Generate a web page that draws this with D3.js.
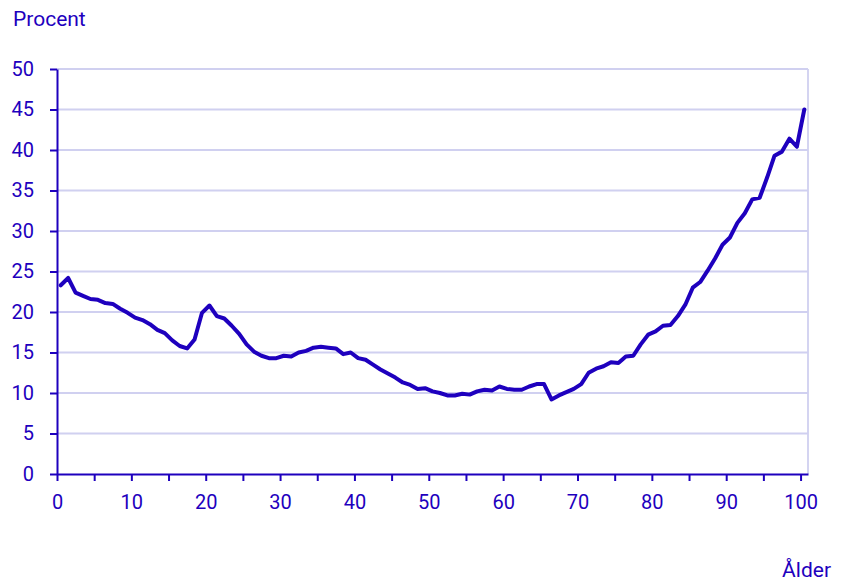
<!DOCTYPE html>
<meta charset="utf-8">
<script src="https://d3js.org/d3.v7.min.js"></script>
<style>
    body { margin: 0; background: #fff; }
    text { font-family: Roboto, "Noto Sans", sans-serif; fill: #1e00be; }
</style>
<div id="my_dataviz"></div>
<script>
    // ages 0..100, share in percent
    const ages = d3.range(0, 101);
    const procent = [
        23.3, 24.2, 22.4, 22.0, 21.6, 21.5, 21.1, 21.0, 20.4, 19.9,
        19.3, 19.0, 18.5, 17.8, 17.4, 16.5, 15.8, 15.5, 16.6, 19.9,
        20.8, 19.5, 19.2, 18.3, 17.3, 16.0, 15.1, 14.6, 14.3, 14.3,
        14.6, 14.5, 15.0, 15.2, 15.6, 15.7, 15.6, 15.5, 14.8, 15.0,
        14.3, 14.1, 13.5, 12.9, 12.4, 11.9, 11.3, 11.0, 10.5, 10.6,
        10.2, 10.0, 9.7, 9.7, 9.9, 9.8, 10.2, 10.4, 10.3, 10.8,
        10.5, 10.4, 10.4, 10.8, 11.1, 11.1, 9.2, 9.7, 10.1, 10.5,
        11.1, 12.5, 13.0, 13.3, 13.8, 13.7, 14.5, 14.6, 16.0, 17.2,
        17.6, 18.3, 18.4, 19.5, 20.9, 23.0, 23.7, 25.1, 26.6, 28.3,
        29.2, 31.0, 32.2, 33.9, 34.1, 36.6, 39.3, 39.8, 41.4, 40.4,
        45.0
    ];
    const yTicks = d3.range(0, 51, 5);
    const xTicks = d3.range(0, 101, 5);

    const W = 842, H = 581;
    const blue = "#1e00be";
    const grid = "#d0d0f0";

    const svg = d3.select("#my_dataviz").append("svg")
        .attr("width", W).attr("height", H);

    const x = d3.scaleLinear().domain([0, 101]).range([57, 808]);
    const y = d3.scaleLinear().domain([0, 50]).range([474, 69]);

    // grid lines
    svg.append("g")
        .selectAll("line")
        .data(yTicks.slice(1))
        .join("line")
        .attr("x1", x(0)).attr("x2", x(101))
        .attr("y1", d => y(d)).attr("y2", d => y(d))
        .attr("stroke", grid).attr("stroke-width", 1.8);

    svg.append("line")
        .attr("x1", x(101)).attr("x2", x(101))
        .attr("y1", y(50)).attr("y2", y(0))
        .attr("stroke", grid).attr("stroke-width", 1.8);

    // y axis
    const yAxis = svg.append("g")
        .attr("transform", `translate(${x(0)},0)`)
        .call(d3.axisLeft(y).tickValues(yTicks).tickSize(7).tickPadding(16).tickSizeOuter(0));
    yAxis.select(".domain").attr("stroke", blue).attr("stroke-width", 2);
    yAxis.selectAll(".tick line").attr("stroke", blue).attr("stroke-width", 2);
    yAxis.selectAll(".tick text").style("font-size", "20px").attr("fill", blue);

    // x axis
    const xAxis = svg.append("g")
        .attr("transform", `translate(0,${y(0)})`)
        .call(d3.axisBottom(x).tickValues(xTicks).tickSize(7).tickPadding(14).tickSizeOuter(0)
            .tickFormat(d => d % 10 === 0 ? d : ""));
    xAxis.select(".domain").attr("stroke", blue).attr("stroke-width", 2);
    xAxis.selectAll(".tick line").attr("stroke", blue).attr("stroke-width", 2);
    xAxis.selectAll(".tick text").style("font-size", "20px").attr("fill", blue);

    // the line, drawn at the middle of each age
    const line = d3.line()
        .x((d, i) => x(ages[i] + 0.5))
        .y(d => y(d));

    svg.append("path")
        .datum(procent)
        .attr("fill", "none")
        .attr("stroke", blue)
        .attr("stroke-width", 4)
        .attr("stroke-linejoin", "round")
        .attr("stroke-linecap", "round")
        .attr("d", line);

    svg.append("text")
        .attr("x", 13).attr("y", 26)
        .style("font-size", "21px")
        .text("Procent");

    svg.append("text")
        .attr("x", 831).attr("y", 577)
        .attr("text-anchor", "end")
        .style("font-size", "21px")
        .text("Ålder");
</script>
